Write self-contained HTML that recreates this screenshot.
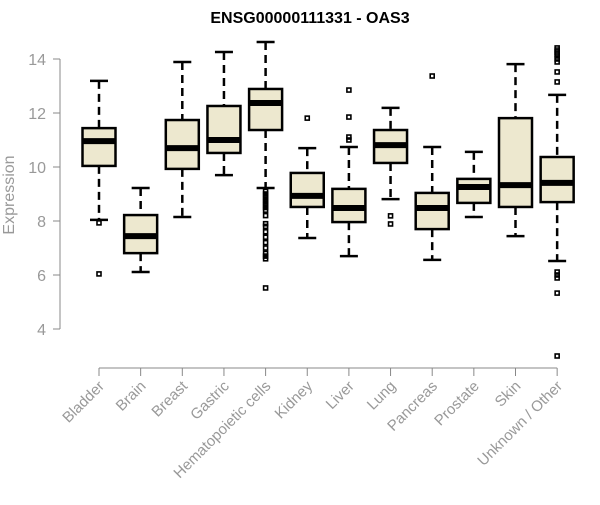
<!DOCTYPE html>
<html><head><meta charset="utf-8"><style>
body{margin:0;background:#fff}
svg text{font-family:"Liberation Sans",sans-serif}
</style></head><body>
<svg id="chart" width="600" height="500" xmlns="http://www.w3.org/2000/svg">
<text x="310" y="23" text-anchor="middle" font-size="16" font-weight="bold">ENSG00000111331 - OAS3</text>
<text transform="translate(14,195) rotate(-90)" text-anchor="middle" font-size="16" fill="#999">Expression</text>
<g id="plot"></g>
</svg>
<script>
const categories=["Bladder","Brain","Breast","Gastric","Hematopoietic cells","Kidney","Liver","Lung","Pancreas","Prostate","Skin","Unknown / Other"];
const whiskerLow=[8.04,6.11,8.15,9.70,9.22,7.37,6.70,8.81,6.56,8.15,7.44,6.52];
const q1=[10.04,6.81,9.93,10.52,11.37,8.52,7.96,10.15,7.70,8.67,8.52,8.70];
const medians=[10.96,7.44,10.70,11.0,12.37,8.93,8.48,10.81,8.48,9.26,9.33,9.41];
const q3=[11.44,8.22,11.74,12.26,12.89,9.78,9.19,11.37,9.04,9.56,11.81,10.37];
const whiskerHigh=[13.19,9.22,13.89,14.26,14.63,10.70,10.74,12.19,10.74,10.56,13.81,12.67];
const outliers=[[7.93,6.04],[],[],[],[9.1,9.0,8.9,8.8,8.7,8.6,8.5,8.4,8.2,7.9,7.8,7.6,7.4,7.2,7.0,6.8,6.7,6.6,5.52],[11.81],[12.85,11.85,11.11,11.0],[8.19,7.89],[13.37],[],[],[14.41,14.33,14.26,14.19,14.11,14.0,13.89,13.52,13.15,6.11,6.0,5.89,5.33,3.0]];
const yTicks=[4,6,8,10,12,14];
const NS="http://www.w3.org/2000/svg";
const g=document.getElementById('plot');
const y=v=>59+(14-v)*27;
const x=i=>99+i*41.65;
function el(t,a){const e=document.createElementNS(NS,t);for(const k in a)e.setAttribute(k,a[k]);g.appendChild(e);return e;}
let ax=el('line',{x1:60,x2:60,y1:y(yTicks[0]),y2:y(yTicks[yTicks.length-1]),stroke:'#888'});


yTicks.forEach(v=>{
 let t=el('line',{x1:53,x2:60,y1:y(v),y2:y(v),stroke:'#888'});
 
 
 let l=el('text',{x:46,y:y(v)+6,'text-anchor':'end','font-size':16,fill:'#999'});l.textContent=v;
 
 
});
let xa=el('line',{x1:x(0),x2:x(categories.length-1),y1:368,y2:368,stroke:'#888'});


categories.forEach((c,i)=>{
 const cx=x(i),hw=16.5;
 let t=el('line',{x1:cx,x2:cx,y1:368,y2:376,stroke:'#888'});
 
 
 let l=el('text',{x:0,y:0,'text-anchor':'end','font-size':15,fill:'#999',transform:`translate(${cx+6},${387}) rotate(-45)`});l.textContent=c;
 
 
 let w1=el('line',{x1:cx,x2:cx,y1:y(whiskerHigh[i]),y2:y(q3[i]),stroke:'#000','stroke-width':2.5,'stroke-dasharray':'8,5'});
 
 
 let w2=el('line',{x1:cx,x2:cx,y1:y(q1[i]),y2:y(whiskerLow[i]),stroke:'#000','stroke-width':2.5,'stroke-dasharray':'8,5'});
 
 
 [whiskerHigh[i],whiskerLow[i]].forEach(v=>{let c2=el('line',{x1:cx-9,x2:cx+9,y1:y(v),y2:y(v),stroke:'#000','stroke-width':2.5});
  
  });
 let b=el('rect',{x:cx-hw,y:y(q3[i]),width:hw*2,height:y(q1[i])-y(q3[i]),fill:'#ede8cf',stroke:'#000','stroke-width':2.5});
 
 
 let m=el('line',{x1:cx-hw,x2:cx+hw,y1:y(medians[i]),y2:y(medians[i]),stroke:'#000','stroke-width':6});
 
 
 outliers[i].forEach(v=>{let o=el('rect',{x:cx-2,y:y(v)-2,width:4,height:4,fill:'none',stroke:'#000','stroke-width':1.6});
  
  });
});
</script>
</body></html>
